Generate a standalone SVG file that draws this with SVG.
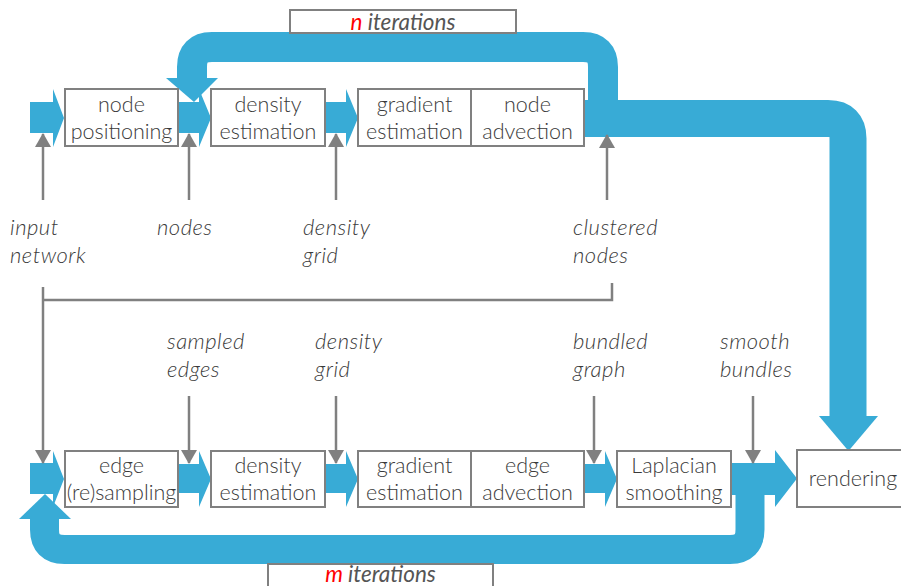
<svg xmlns="http://www.w3.org/2000/svg" width="901" height="586" viewBox="0 0 901 586">
  <style>
    .box { fill: #ffffff; stroke: #808080; stroke-width: 2; }
    .txt { font-family: Lato, "Liberation Sans", sans-serif; font-size: 21.5px; font-weight: 300; fill: #3a3a3a; text-anchor: middle; }
    .lbl { font-family: Lato, "Liberation Sans", sans-serif; font-size: 22px; font-style: italic; font-weight: 300; letter-spacing: 0.5px; fill: #3a3a3a; }
    .iter { font-family: Lato, "Liberation Sans", sans-serif; font-size: 22.5px; font-style: italic; font-weight: 400; fill: #555555; text-anchor: middle; }
    .red { fill: #ff0000; }
    .flow { fill: #38abd6; }
    .band { fill: none; stroke: #38abd6; stroke-width: 30; }
    .wire { fill: none; stroke: #808080; stroke-width: 2.5; }
    .tip { fill: #808080; }
  </style>
  <defs>
    <!-- small gray arrowhead for the data connectors -->
    <marker id="ah" viewBox="0 0 14 16" refX="13" refY="8" markerWidth="14" markerHeight="16" markerUnits="userSpaceOnUse" orient="auto">
      <path d="M0,0 L14,8 L0,16 Z" class="tip"/>
    </marker>
  </defs>

  <!-- thick blue flow bands and loops -->
  <g id="flows">
    <!-- top loop: n iterations -->
    <path class="band" d="M603,112 V67 Q603,47 583,47 H212 Q192,47 192,67 V80"/>
    <polygon class="flow" points="166,78 218,78 194,102"/>
    <!-- output of the node stage towards rendering -->
    <path class="band" d="M583,118.5 H828 Q848,118.5 848,138.5 V418" style="stroke-width:37"/>
    <polygon class="flow" points="819,416 878,416 848.5,451"/>
    <!-- bottom loop: m iterations -->
    <path class="band" d="M750,480 V529.5 Q750,549.5 730,549.5 H64.5 Q44.5,549.5 44.5,529.5 V517" style="stroke-width:29"/>
    <polygon class="flow" points="19,519 71,519 45,494"/>

    <!-- top row arrows -->
    <path class="flow" d="M30,102 H53 V89 L64,118 L53,147 V133 H30 Z"/>
    <path class="flow" d="M178,102 H199 V89 L211,118 L199,147 V133 H178 Z"/>
    <path class="flow" d="M325,102 H346 V89 L358,118 L346,147 V133 H325 Z"/>

    <!-- bottom row arrows -->
    <path class="flow" d="M30,463 H53 V451 L64,479 L53,507 V494 H30 Z"/>
    <path class="flow" d="M178,464 H199 V451 L211,479 L199,507 V493 H178 Z"/>
    <path class="flow" d="M325,464 H346 V451 L358,479 L346,507 V493 H325 Z"/>
    <path class="flow" d="M584,464 H605 V451 L617,479 L605,507 V493 H584 Z"/>
    <path class="flow" d="M731,463 H775 V450 L797,478.5 L775,507 V495 H731 Z"/>
  </g>

  <!-- thin gray data connectors -->
  <g id="connectors">
    <path class="wire" d="M43,200 V134" marker-end="url(#ah)"/>
    <path class="wire" d="M189,200 V134" marker-end="url(#ah)"/>
    <path class="wire" d="M336,200 V134" marker-end="url(#ah)"/>
    <path class="wire" d="M607,200 V135" marker-end="url(#ah)"/>
    <path class="wire" d="M612,283 V300 H43"/>
    <path class="wire" d="M43,287 V463" marker-end="url(#ah)"/>
    <path class="wire" d="M189,396 V463" marker-end="url(#ah)"/>
    <path class="wire" d="M336,396 V463" marker-end="url(#ah)"/>
    <path class="wire" d="M594,396 V463" marker-end="url(#ah)"/>
    <path class="wire" d="M753,396 V463" marker-end="url(#ah)"/>
  </g>

  <!-- top row -->
  <g id="node-positioning">
    <rect class="box" x="65" y="89" width="113" height="57"/>
    <text class="txt" x="121.5" y="112">node</text>
    <text class="txt" x="121.5" y="139">positioning</text>
  </g>
  <g id="density-estimation-1">
    <rect class="box" x="211" y="89" width="114" height="57"/>
    <text class="txt" x="268" y="112">density</text>
    <text class="txt" x="268" y="139">estimation</text>
  </g>
  <g id="gradient-node-advection">
    <rect class="box" x="358" y="89" width="226" height="57"/>
    <line x1="471" y1="89" x2="471" y2="146" stroke="#808080" stroke-width="2"/>
    <text class="txt" x="414.5" y="112">gradient</text>
    <text class="txt" x="414.5" y="139">estimation</text>
    <text class="txt" x="527.5" y="112">node</text>
    <text class="txt" x="527.5" y="139">advection</text>
  </g>
  <g id="n-iterations">
    <rect class="box" x="290" y="10" width="226" height="23"/>
    <text class="iter" x="403" y="29.5"><tspan class="red">n</tspan> iterations</text>
  </g>

  <!-- bottom row -->
  <g id="edge-resampling">
    <rect class="box" x="65" y="451" width="113" height="56"/>
    <text class="txt" x="121.5" y="473">edge</text>
    <text class="txt" x="121.5" y="500">(re)sampling</text>
  </g>
  <g id="density-estimation-2">
    <rect class="box" x="211" y="451" width="114" height="56"/>
    <text class="txt" x="268" y="473">density</text>
    <text class="txt" x="268" y="500">estimation</text>
  </g>
  <g id="gradient-edge-advection">
    <rect class="box" x="358" y="451" width="226" height="56"/>
    <line x1="471" y1="451" x2="471" y2="507" stroke="#808080" stroke-width="2"/>
    <text class="txt" x="414.5" y="473">gradient</text>
    <text class="txt" x="414.5" y="500">estimation</text>
    <text class="txt" x="527.5" y="473">edge</text>
    <text class="txt" x="527.5" y="500">advection</text>
  </g>
  <g id="laplacian-smoothing">
    <rect class="box" x="617" y="451" width="114" height="56"/>
    <text class="txt" x="674" y="473">Laplacian</text>
    <text class="txt" x="674" y="500">smoothing</text>
  </g>
  <g id="rendering">
    <rect class="box" x="797" y="450" width="110" height="57"/>
    <text class="txt" x="853" y="486">rendering</text>
  </g>
  <g id="m-iterations">
    <rect class="box" x="268" y="564" width="225" height="26"/>
    <text class="iter" x="380.5" y="582"><tspan class="red">m</tspan> iterations</text>
  </g>

  <!-- data labels -->
  <g id="labels">
    <text class="lbl" x="10" y="235">input</text>
    <text class="lbl" x="10" y="263">network</text>
    <text class="lbl" x="157" y="235">nodes</text>
    <text class="lbl" x="303" y="235">density</text>
    <text class="lbl" x="303" y="263">grid</text>
    <text class="lbl" x="573" y="235">clustered</text>
    <text class="lbl" x="573" y="263">nodes</text>
    <text class="lbl" x="167" y="349">sampled</text>
    <text class="lbl" x="167" y="377">edges</text>
    <text class="lbl" x="315" y="349">density</text>
    <text class="lbl" x="315" y="377">grid</text>
    <text class="lbl" x="573" y="349">bundled</text>
    <text class="lbl" x="573" y="377">graph</text>
    <text class="lbl" x="720" y="349">smooth</text>
    <text class="lbl" x="720" y="377">bundles</text>
  </g>
</svg>
